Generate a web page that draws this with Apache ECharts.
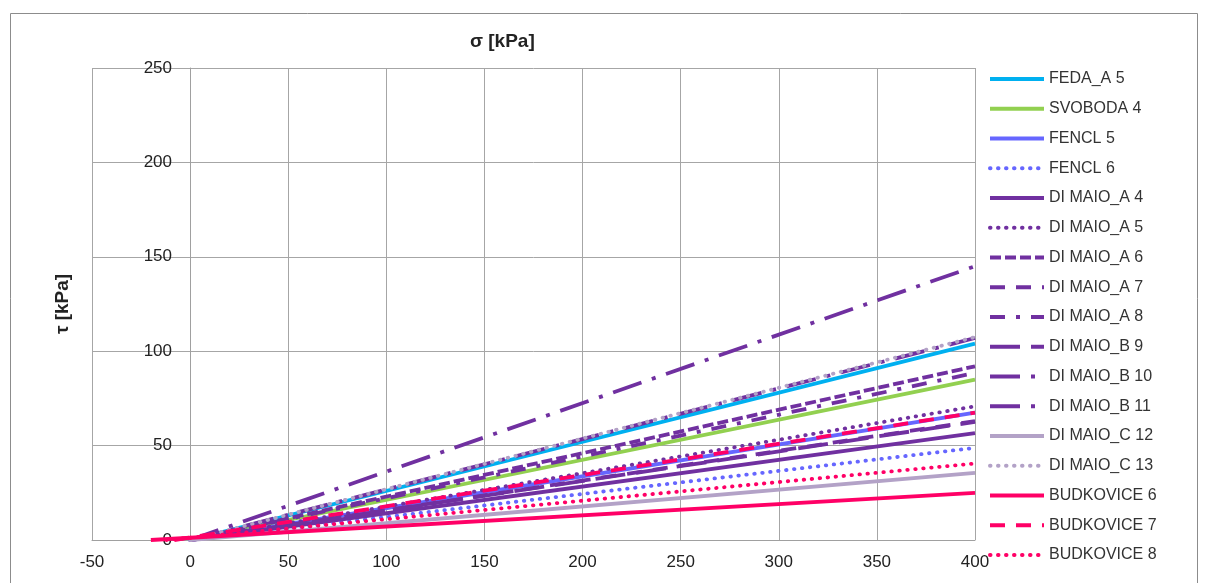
<!DOCTYPE html>
<html>
<head>
<meta charset="utf-8">
<script src="https://cdn.jsdelivr.net/npm/echarts@6/dist/echarts.min.js"></script>
<style>
  html, body { margin: 0; padding: 0; background: #fff; }
  #chart { width: 1205px; height: 583px; }
</style>
</head>
<body>
<div id="chart"></div>
<script>
// tick labels of the axes
var sigmaTicks = [-50, 0, 50, 100, 150, 200, 250, 300, 350, 400];
var tauTicks = [0, 50, 100, 150, 200, 250];

// series names (legend order)
var seriesNames = [
  'FEDA_A 5', 'SVOBODA 4', 'FENCL 5', 'FENCL 6',
  'DI MAIO_A 4', 'DI MAIO_A 5', 'DI MAIO_A 6', 'DI MAIO_A 7', 'DI MAIO_A 8',
  'DI MAIO_B 9', 'DI MAIO_B 10', 'DI MAIO_B 11',
  'DI MAIO_C 12', 'DI MAIO_C 13',
  'BUDKOVICE 6', 'BUDKOVICE 7', 'BUDKOVICE 8'
];
// sigma where each envelope starts (tau = 0 there)
var sigmaStart = [0, 0, 0, 0, 0, 0, 0, 0, 0, 0, 0, 0, 0, 0, -20, -8, -12];
// sigma at the right end of every line
var sigmaEnd = [400, 400, 400, 400, 400, 400, 400, 400, 400, 400, 400, 400, 400, 400, 400, 400, 400];
// tau read at the right end (sigma = 400)
var tauEnd = [104, 85, 67.5, 48.8, 56.6, 70.8, 92, 63, 88.5, 62.6, 145, 107, 35.5, 107.5, 25, 67.5, 40.5];

// look of each line
var colors = [
  '#00B0F0', '#92D050', '#6666FF', '#6666FF',
  '#7030A0', '#7030A0', '#7030A0', '#7030A0', '#7030A0',
  '#7030A0', '#7030A0', '#7030A0',
  '#B3A2C7', '#B3A2C7',
  '#FF0066', '#FF0066', '#FF0066'
];
var DOT = [0.5, 7.5];
var dashes = [
  'solid', 'solid', 'solid', DOT,
  'solid', DOT, [11, 4], [15, 11], [15, 11, 4, 11],
  [30, 11], [30, 11, 4, 11], [30, 11, 4, 11],
  'solid', DOT,
  'solid', [15, 11], DOT
];

var chart = echarts.init(document.getElementById('chart'));

var series = seriesNames.map(function(name, i) {
  var isDot = dashes[i] === DOT;
  return {
    name: name,
    type: 'line',
    symbol: 'none',
    data: [[sigmaStart[i], 0], [sigmaEnd[i], tauEnd[i]]],
    lineStyle: {
      color: colors[i],
      width: 3.8,
      type: dashes[i],
      cap: isDot ? 'round' : 'butt'
    },
    itemStyle: { color: colors[i] }
  };
});

var fontFamily = '"Liberation Sans", Arial, sans-serif';

chart.setOption({
  animation: false,
  textStyle: { fontFamily: fontFamily },
  title: {
    text: 'σ [kPa]',
    left: 470,
    top: 32,
    padding: 0,
    textStyle: { fontSize: 19, fontWeight: 'bold', color: '#222', fontFamily: fontFamily }
  },
  legend: {
    orient: 'vertical',
    left: 988,
    top: 71,
    padding: 0,
    itemWidth: 54,
    itemHeight: 16,
    itemGap: 13.75,
    data: seriesNames,
    lineStyle: { width: 4 },
    itemStyle: { opacity: 0, color: 'transparent', borderColor: 'transparent' },
    textStyle: { fontSize: 16, color: '#333', lineHeight: 16, fontFamily: fontFamily }
  },
  grid: { left: 92, right: 230, top: 68, bottom: 43, outerBoundsMode: 'none', containLabel: false },
  xAxis: {
    type: 'value',
    min: sigmaTicks[0],
    max: sigmaTicks[sigmaTicks.length - 1],
    interval: 50,
    axisLine: { onZero: false, lineStyle: { color: '#a0a0a0' } },
    axisTick: { show: false },
    axisLabel: { fontSize: 17, color: '#222', margin: 14 },
    splitLine: { lineStyle: { color: '#a6a6a6', width: 1 } }
  },
  yAxis: {
    type: 'value',
    min: tauTicks[0],
    max: tauTicks[tauTicks.length - 1],
    interval: 50,
    // the tau axis sits on sigma = 0, one 50 kPa step right of the plot edge
    offset: -98,
    name: 'τ [kPa]',
    nameLocation: 'middle',
    nameGap: 118,
    nameTextStyle: { fontSize: 19, fontWeight: 'bold', color: '#222' },
    axisLine: { show: true, onZero: false, lineStyle: { color: '#a0a0a0' } },
    axisTick: { show: false },
    axisLabel: { fontSize: 17, color: '#222', margin: 18 },
    splitLine: { lineStyle: { color: '#a6a6a6', width: 1 } }
  },
  graphic: [{
    type: 'rect',
    shape: { x: 10.5, y: 13.5, width: 1187, height: 620 },
    style: { fill: null, stroke: '#8c8c8c', lineWidth: 1 },
    silent: true
  }],
  series: series
});
</script>
</body>
</html>
